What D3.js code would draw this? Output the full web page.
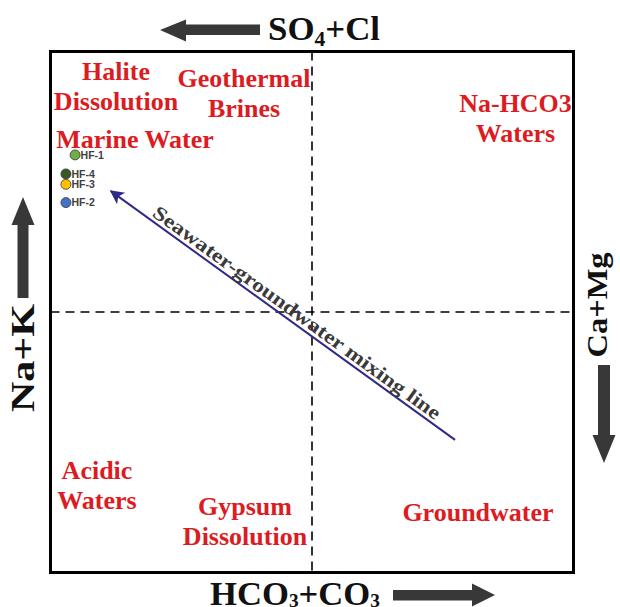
<!DOCTYPE html>
<html>
<head>
<meta charset="utf-8">
<script src="https://cdn.jsdelivr.net/npm/d3@7"></script>
<style>
  html, body { margin: 0; padding: 0; background: #fff; }
  svg { display: block; }
</style>
</head>
<body>
<div id="chart"></div>
<script>
// ---------------- data ----------------
const sampleNames = ["HF-1", "HF-4", "HF-3", "HF-2"];
// x: (HCO3+CO3) - (SO4+Cl), meq %   y: (Na+K) - (Ca+Mg), meq %
const sampleX = [-90.6, -94.1, -94.1, -94.1];
const sampleY = [60.3, 53.0, 49.0, 42.0];
const sampleFill = ["#70ad47", "#385723", "#ffc000", "#4472c4"];

const mixStartX = 54.7, mixStartY = -49.1;   // groundwater end
const mixEndX = -76.9, mixEndY = 46.4;       // seawater end (arrow tip)
const mixLabel = "Seawater-groundwater mixing line";

const regionLabels = [
  ["Halite", "Dissolution"],
  ["Geothermal", "Brines"],
  ["Marine Water"],
  ["Na-HCO3", "Waters"],
  ["Acidic", "Waters"],
  ["Gypsum", "Dissolution"],
  ["Groundwater"]
];
const axisDomain = [-100, 100];

// ---------------- layout ----------------
const W = 620, H = 607;
const frame = { x0: 50.5, y0: 51.5, x1: 573.5, y1: 572.5 };
// anchor (centre x, first baseline y) for each region label, pixels
const regionAnchor = [
  [116, 80], [244, 87], [135, 148], [515.5, 112], [97, 479], [245, 515], [478, 521]
];
const lineGap = 29.5;
const red = "#dc1c22";
const dark = "#3a3a3a";

const svg = d3.select("#chart").append("svg")
  .attr("width", W).attr("height", H)
  .attr("font-family", "'Liberation Serif', 'Times New Roman', serif");

const x = d3.scaleLinear().domain(axisDomain).range([frame.x0, frame.x1]);
const y = d3.scaleLinear().domain(axisDomain).range([frame.y1, frame.y0]);

// dashed centre lines
svg.append("line")
  .attr("x1", x(0)).attr("x2", x(0)).attr("y1", y(100)).attr("y2", y(-100))
  .attr("stroke", "#000").attr("stroke-width", 1.6).attr("stroke-dasharray", "9,6");
svg.append("line")
  .attr("x1", x(-100)).attr("x2", x(100)).attr("y1", y(0)).attr("y2", y(0))
  .attr("stroke", "#000").attr("stroke-width", 1.6).attr("stroke-dasharray", "9,6");

// frame
svg.append("rect")
  .attr("x", frame.x0).attr("y", frame.y0)
  .attr("width", frame.x1 - frame.x0).attr("height", frame.y1 - frame.y0)
  .attr("fill", "none").attr("stroke", "#000").attr("stroke-width", 3);

// mixing line with arrow
const defs = svg.append("defs");
defs.append("marker")
  .attr("id", "mixHead").attr("viewBox", "0 0 10 10")
  .attr("refX", 9).attr("refY", 5)
  .attr("markerWidth", 9).attr("markerHeight", 7)
  .attr("markerUnits", "strokeWidth")
  .attr("orient", "auto")
  .append("path").attr("d", "M0,0 L10,5 L0,10 L2.5,5 Z").attr("fill", "#2e2a88");

const ax = x(mixStartX), ay = y(mixStartY), bx = x(mixEndX), by = y(mixEndY);
svg.append("line")
  .attr("x1", ax).attr("y1", ay).attr("x2", bx).attr("y2", by)
  .attr("stroke", "#2e2a88").attr("stroke-width", 2)
  .attr("marker-end", "url(#mixHead)");

// mixing line label
{
  const dx = ax - bx, dy = ay - by;
  const len = Math.hypot(dx, dy);
  const ux = dx / len, uy = dy / len;
  const ang = Math.atan2(dy, dx) * 180 / Math.PI;
  const t = 222;      // distance from tip along line to label centre
  const off = 4;      // perpendicular offset above line
  const cx = bx + ux * t + uy * off;
  const cy = by + uy * t - ux * off;
  svg.append("text")
    .attr("transform", `translate(${cx},${cy}) rotate(${ang})`)
    .attr("text-anchor", "middle")
    .attr("font-size", 19.5).attr("font-weight", "bold")
    .attr("fill", dark)
    .attr("textLength", 350).attr("lengthAdjust", "spacingAndGlyphs")
    .text(mixLabel);
}

// region labels
regionLabels.forEach((lines, i) => {
  const [cx, cy] = regionAnchor[i];
  lines.forEach((s, j) => {
    svg.append("text")
      .attr("x", cx).attr("y", cy + j * lineGap)
      .attr("text-anchor", "middle")
      .attr("font-size", 26).attr("font-weight", "bold")
      .attr("fill", red)
      .text(s);
  });
});

// samples
const samples = sampleNames.map((n, i) => ({ n, x: sampleX[i], y: sampleY[i], c: sampleFill[i] }));
svg.selectAll("circle.s").data(samples).enter().append("circle")
  .attr("class", "s")
  .attr("cx", d => x(d.x)).attr("cy", d => y(d.y)).attr("r", 5)
  .attr("fill", d => d.c).attr("stroke", "#3a3a3a").attr("stroke-width", 0.8);
svg.selectAll("text.s").data(samples).enter().append("text")
  .attr("class", "s")
  .attr("x", d => x(d.x) + 5.5).attr("y", d => y(d.y) + 3.8)
  .attr("font-family", "'Liberation Sans', Arial, sans-serif")
  .attr("font-size", 10.5).attr("font-weight", "bold")
  .attr("fill", "#404040")
  .text(d => d.n);

// axis direction arrows
const arrowColor = "#383838";
function arrow(pts) {
  svg.append("polygon").attr("points", pts.map(p => p.join(",")).join(" ")).attr("fill", arrowColor);
}
// top: pointing left
arrow([[160, 30], [186, 19.5], [186, 24.5], [260, 24.5], [260, 35], [186, 35], [186, 41.5]]);
// bottom: pointing right
arrow([[495, 595], [472, 583.5], [472, 590], [393, 590], [393, 600.5], [472, 600.5], [472, 606.5]]);
// left: pointing up
arrow([[23, 197], [11.5, 225], [17.5, 225], [17.5, 298], [28.5, 298], [28.5, 225], [34.5, 225]]);
// right: pointing down
arrow([[604, 463], [592.5, 435], [598, 435], [598, 365], [610, 365], [610, 435], [615.5, 435]]);

// axis titles
const topTitle = svg.append("text").attr("x", 268).attr("y", 40)
  .attr("font-size", 34).attr("font-weight", "bold").attr("fill", "#111")
  .attr("textLength", 112).attr("lengthAdjust", "spacingAndGlyphs");
topTitle.append("tspan").text("SO");
topTitle.append("tspan").attr("font-size", 21).attr("dy", 6).text("4");
topTitle.append("tspan").attr("dy", -6).text("+Cl");

const botTitle = svg.append("text").attr("x", 210).attr("y", 605)
  .attr("font-size", 34).attr("font-weight", "bold").attr("fill", "#111")
  .attr("textLength", 170).attr("lengthAdjust", "spacingAndGlyphs");
botTitle.append("tspan").text("HCO");
botTitle.append("tspan").attr("font-size", 19).attr("dy", 2).text("3");
botTitle.append("tspan").attr("dy", -2).text("+CO");
botTitle.append("tspan").attr("font-size", 19).attr("dy", 2).text("3");

svg.append("text")
  .attr("transform", "translate(34,358) rotate(-90)")
  .attr("text-anchor", "middle")
  .attr("font-size", 34).attr("font-weight", "bold").attr("fill", "#111")
  .attr("textLength", 108).attr("lengthAdjust", "spacingAndGlyphs")
  .text("Na+K");

svg.append("text")
  .attr("transform", "translate(607,305) rotate(-90)")
  .attr("text-anchor", "middle")
  .attr("font-size", 30).attr("font-weight", "bold").attr("fill", "#111")
  .attr("textLength", 105).attr("lengthAdjust", "spacingAndGlyphs")
  .text("Ca+Mg");
</script>
</body>
</html>
